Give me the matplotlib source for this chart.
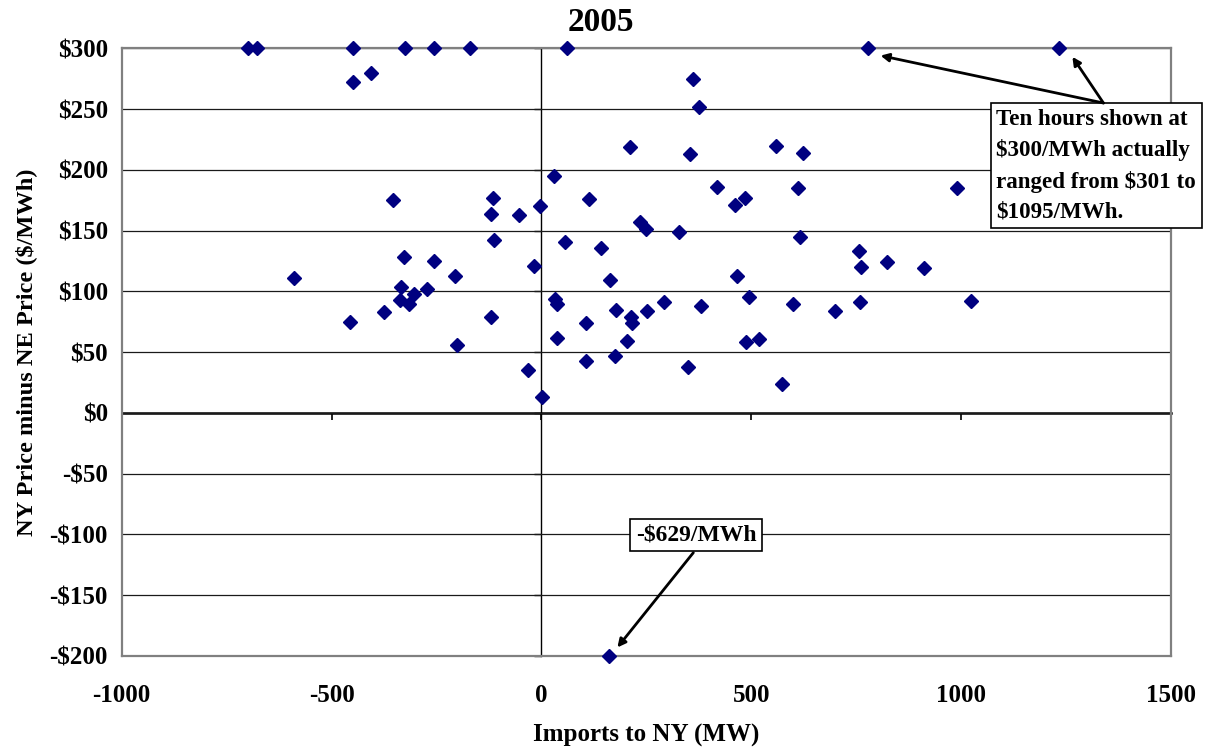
import matplotlib
matplotlib.use("Agg")
import matplotlib.pyplot as plt

# Hourly observations: imports to NY (MW) vs. NY minus NE price ($/MWh), 2005
imports_mw = [
    -699, -677, -449, -326, -257, -169, 61, 777, 1234,
    -449, -406, 362, 375,
    -353, -116, -121, -54, -3, -114, -589, -328, -257, -205,
    -335, -273, -304, -337, -315, -376, -455, -120, -201, -33, 2,
    210, 354, 558, 624, 29, 114, 418, 484, 461, 611, 991,
    236, 249, 329, 56, 141, 617, -18, 756, 762, 824, 911,
    465, 163, 33, 37, 178, 214, 217, 251, 291, 381, 494, 599,
    699, 759, 1024, 106, 36, 205, 488, 519, 106, 175, 349, 574,
    162,
]
price_diff = [
    300, 300, 300, 300, 300, 300, 300, 300, 300,
    272, 280, 275, 252,
    175, 177, 164, 163, 170, 142, 111, 128, 125, 113,
    104, 102, 98, 93, 90, 83, 75, 79, 56, 35, 13,
    219, 213, 220, 214, 195, 176, 186, 177, 171, 185, 185,
    157, 151, 149, 141, 136, 145, 121, 133, 120, 124, 119,
    113, 109, 94, 90, 85, 79, 74, 84, 91, 88, 95, 90,
    84, 91, 92, 74, 62, 59, 58, 61, 43, 47, 38, 24,
    -200,
]

x_ticks = [-1000, -500, 0, 500, 1000, 1500]
y_ticks = [300, 250, 200, 150, 100, 50, 0, -50, -100, -150, -200]
y_tick_labels = [f"${v}" if v >= 0 else f"-${-v}" for v in y_ticks]

plt.rcParams["font.family"] = ["Liberation Serif", "DejaVu Serif"]
plt.rcParams["font.weight"] = "bold"

fig = plt.figure(figsize=(12.14, 7.49), dpi=100)
ax = fig.add_axes([0.1002, 0.1242, 0.8644, 0.8113])

ax.set_xlim(-1000, 1500)
ax.set_ylim(-200, 300)
ax.set_axisbelow(True)
ax.yaxis.grid(True, color="#1a1a1a", lw=0.9)

for sp in ax.spines.values():
    sp.set_color("#808080")
    sp.set_linewidth(1.6)

ax.set_xticks(x_ticks)
ax.set_xticklabels([str(v) for v in x_ticks])
ax.set_yticks(y_ticks)
ax.set_yticklabels(y_tick_labels)
ax.tick_params(axis="x", length=0, pad=20, labelsize=18)
ax.tick_params(axis="y", length=0, pad=10, labelsize=18)
for lbl in ax.get_xticklabels() + ax.get_yticklabels():
    lbl.set_fontweight("bold")

# Axes lines through the origin, with outward tick marks
sx = ax.secondary_xaxis(0, transform=ax.transData)
sx.spines["bottom"].set_color("black")
sx.spines["bottom"].set_linewidth(1.8)
sx.set_xticks(x_ticks)
sx.tick_params(axis="x", direction="out", length=5, width=1.2, labelbottom=False)

sy = ax.secondary_yaxis(0, transform=ax.transData)
sy.spines["left"].set_color("black")
sy.spines["left"].set_linewidth(1.0)
sy.set_yticks(y_ticks)
sy.tick_params(axis="y", direction="out", length=5, width=1.0, labelleft=False)

ax.plot(imports_mw, price_diff, linestyle="none", marker="D",
        markersize=7.4, color="#000080", zorder=5, clip_on=False)

ax.set_xlabel("Imports to NY (MW)", fontsize=18, fontweight="bold")
ax.xaxis.set_label_coords(0.5, -0.112)
ax.set_ylabel("NY Price minus NE Price ($/MWh)", fontsize=17.6, fontweight="bold")
ax.yaxis.set_label_coords(-0.081, 0.5)

fig.text(601 / 1214, 1 - 31 / 749, "2005", ha="center", va="baseline",
         fontsize=24, fontweight="bold")

# Callout for capped hours
ax.text(1084, 250,
        "Ten hours shown at\n$300/MWh actually\nranged from $301 to\n$1095/MWh.",
        ha="left", va="top", fontsize=16.6, fontweight="bold", linespacing=1.55,
        bbox=dict(boxstyle="square,pad=0.25", fc="white", ec="black", lw=1.2),
        zorder=6)
arrow_kw = dict(arrowstyle="-|>", color="black", lw=2, mutation_scale=12,
                shrinkA=0, shrinkB=0)
ax.annotate("", xy=(808, 294), xytext=(1339, 255), arrowprops=arrow_kw, zorder=6)
ax.annotate("", xy=(1265, 293), xytext=(1339, 255), arrowprops=arrow_kw, zorder=6)

# Callout for the capped negative hour
ax.text(369, -100.5, "-$629/MWh", ha="center", va="center", fontsize=17,
        fontweight="bold",
        bbox=dict(boxstyle="square,pad=0.25", fc="white", ec="black", lw=1.2),
        zorder=6)
ax.annotate("", xy=(181, -193), xytext=(362, -115), arrowprops=arrow_kw, zorder=6)

fig.savefig("out.png", dpi=100, facecolor="white")
